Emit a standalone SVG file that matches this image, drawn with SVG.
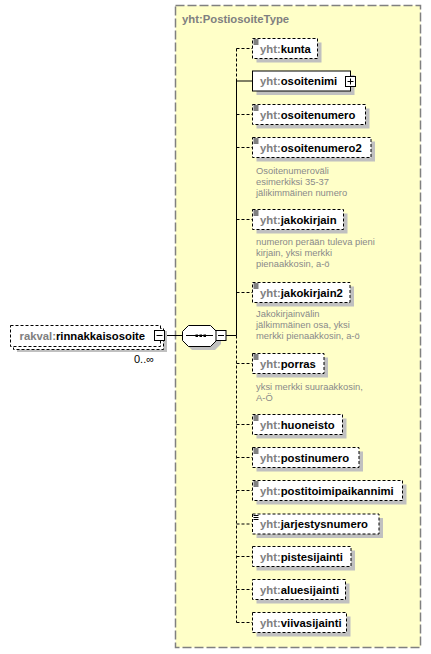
<svg xmlns="http://www.w3.org/2000/svg" width="431" height="654" viewBox="0 0 431 654">
<style>
text{font-family:"Liberation Sans",Arial,sans-serif}
.nm{font-size:11.3px;font-weight:bold;fill:#000}
.ns{fill:#808080}
.doc{font-size:9.4px;fill:#8a8a8a}
.box{fill:#fff;stroke:#000;stroke-width:1;stroke-dasharray:3,2}
.sbox{fill:#fff;stroke:#000;stroke-width:1}
.sh{fill:#c0c0c0}
.ic{stroke:#000;stroke-width:1}
.cd{stroke:#000;stroke-width:1;stroke-dasharray:3,2;fill:none}
.cs{stroke:#000;stroke-width:1;fill:none}
</style>
<defs>
<g id="icon"><path class="ic" d="M1,1.5h5M1,3.5h5M1,5.5h5"/></g>
</defs>
<g id="type">
<rect x="175.5" y="5.5" width="245" height="642" fill="#ffffc8" stroke="#808080" stroke-width="1.5" stroke-dasharray="9,3"/>
<text x="182" y="23" class="nm" style="fill:#808080">yht:PostiosoiteType</text>
</g>
<g id="connectors">
<path class="cs" d="M164.5,335.5H182.5M225.5,335.5H236.5"/>
<path class="cd" d="M236.5,48.5V81"/>
<path class="cs" d="M236.5,81V335.5"/>
<path class="cd" d="M236.5,335.5V622.5"/>
<path class="cd" d="M236.5,48.5H252.5M236.5,114.5H252.5M236.5,147.5H252.5M236.5,219.5H252.5M236.5,292.5H252.5M236.5,363.5H252.5M236.5,424.5H252.5M236.5,457.5H252.5M236.5,490.5H252.5M236.5,524H252.5M236.5,556.5H252.5M236.5,589.5H252.5M236.5,622.5H252.5"/>
<path class="cs" d="M236.5,81H252.5"/>
</g>
<g id="rinnakkaisosoite">
<rect class="sh" x="17" y="331" width="150" height="21"/>
<rect class="box" x="13.5" y="328.5" width="150" height="21"/>
<rect class="box" x="10.5" y="325.5" width="150" height="21"/>
<text x="19.5" y="340" class="nm"><tspan class="ns">rakval:</tspan>rinnakkaisosoite</text>
<rect class="sbox" x="154.5" y="330.5" width="10" height="10"/>
<path class="cs" d="M156.5,335.5h6"/>
<text x="134" y="363" style="font-size:11px;fill:#000">0..∞</text>
</g>
<g id="sequence">
<path class="sh" d="M192,329h23l6,6v9l-6,6h-23l-6,-6v-9z"/>
<path d="M188.5,325.5h22l6,6v9l-6,6h-22l-6,-6v-9z" fill="#fff" stroke="#000" stroke-width="1"/>
<path class="cs" d="M186,335.5h27"/>
<rect x="195.5" y="334.5" width="2.5" height="2.5" fill="#000"/>
<rect x="199.5" y="334.5" width="2.5" height="2.5" fill="#000"/>
<rect x="203.5" y="334.5" width="2.5" height="2.5" fill="#000"/>
<rect class="sbox" x="216" y="330.5" width="10" height="10"/>
<path class="cs" d="M218,335.5h6"/>
</g>
<g id="kunta">
<rect class="sh" x="256.5" y="42.5" width="65" height="20"/>
<rect class="box" x="252.5" y="38.5" width="65" height="20"/>
<use href="#icon" x="252.5" y="38.5"/>
<text x="260" y="52.5" class="nm"><tspan class="ns">yht:</tspan>kunta</text>
</g>
<g id="osoitenimi">
<rect class="sh" x="256.5" y="75" width="98" height="20"/>
<rect class="sbox" x="252.5" y="71" width="98" height="20"/>
<text x="260" y="85" class="nm"><tspan class="ns">yht:</tspan>osoitenimi</text>
<rect class="sbox" x="345.5" y="76.5" width="10" height="10"/>
<path class="cs" d="M347.5,81.5h6M350.5,78.5v6"/>
</g>
<g id="osoitenumero">
<rect class="sh" x="256.5" y="108.5" width="113" height="20"/>
<rect class="box" x="252.5" y="104.5" width="113" height="20"/>
<use href="#icon" x="252.5" y="104.5"/>
<text x="260" y="118.5" class="nm"><tspan class="ns">yht:</tspan>osoitenumero</text>
</g>
<g id="osoitenumero2">
<rect class="sh" x="256.5" y="141.5" width="118.5" height="20"/>
<rect class="box" x="252.5" y="137.5" width="118.5" height="20"/>
<use href="#icon" x="252.5" y="137.5"/>
<text x="260" y="151.5" class="nm"><tspan class="ns">yht:</tspan>osoitenumero2</text>
<text class="doc" x="256"><tspan x="256" y="173.5">Osoitenumeroväli</tspan><tspan x="256" y="184.5">esimerkiksi 35-37</tspan><tspan x="256" y="195.5">jälikimmäinen numero</tspan></text>
</g>
<g id="jakokirjain">
<rect class="sh" x="256.5" y="213.5" width="91" height="20"/>
<rect class="box" x="252.5" y="209.5" width="91" height="20"/>
<use href="#icon" x="252.5" y="209.5"/>
<text x="260" y="223.5" class="nm"><tspan class="ns">yht:</tspan>jakokirjain</text>
<text class="doc" x="256"><tspan x="256" y="244.5">numeron perään tuleva pieni</tspan><tspan x="256" y="255.5">kirjain, yksi merkki</tspan><tspan x="256" y="266.5">pienaakkosin, a-ö</tspan></text>
</g>
<g id="jakokirjain2">
<rect class="sh" x="256.5" y="286.5" width="97.5" height="20"/>
<rect class="box" x="252.5" y="282.5" width="97.5" height="20"/>
<use href="#icon" x="252.5" y="282.5"/>
<text x="260" y="296.5" class="nm"><tspan class="ns">yht:</tspan>jakokirjain2</text>
<text class="doc" x="256"><tspan x="256" y="316.5">Jakokirjainvälin</tspan><tspan x="256" y="327.5">jälkimmäinen osa, yksi</tspan><tspan x="256" y="338.5">merkki pienaakkosin, a-ö</tspan></text>
</g>
<g id="porras">
<rect class="sh" x="256.5" y="357.5" width="71.5" height="20"/>
<rect class="box" x="252.5" y="353.5" width="71.5" height="20"/>
<use href="#icon" x="252.5" y="353.5"/>
<text x="260" y="367.5" class="nm"><tspan class="ns">yht:</tspan>porras</text>
<text class="doc" x="256"><tspan x="256" y="389.5">yksi merkki suuraakkosin,</tspan><tspan x="256" y="400.5">A-Ö</tspan></text>
</g>
<g id="huoneisto">
<rect class="sh" x="256.5" y="418.5" width="90" height="20"/>
<rect class="box" x="252.5" y="414.5" width="90" height="20"/>
<use href="#icon" x="252.5" y="414.5"/>
<text x="260" y="428.5" class="nm"><tspan class="ns">yht:</tspan>huoneisto</text>
</g>
<g id="postinumero">
<rect class="sh" x="256.5" y="451.5" width="106.5" height="20"/>
<rect class="box" x="252.5" y="447.5" width="106.5" height="20"/>
<use href="#icon" x="252.5" y="447.5"/>
<text x="260" y="461.5" class="nm"><tspan class="ns">yht:</tspan>postinumero</text>
</g>
<g id="postitoimipaikannimi">
<rect class="sh" x="256.5" y="484.5" width="150" height="20"/>
<rect class="box" x="252.5" y="480.5" width="150" height="20"/>
<use href="#icon" x="252.5" y="480.5"/>
<text x="260" y="494.5" class="nm"><tspan class="ns">yht:</tspan>postitoimipaikannimi</text>
</g>
<g id="jarjestysnumero">
<rect class="sh" x="256.5" y="518" width="126.5" height="20"/>
<rect class="box" x="252.5" y="514" width="126.5" height="20"/>
<use href="#icon" x="252.5" y="514"/>
<text x="260" y="528" class="nm"><tspan class="ns">yht:</tspan>jarjestysnumero</text>
</g>
<g id="pistesijainti">
<rect class="sh" x="256.5" y="550.5" width="98.5" height="20"/>
<rect class="box" x="252.5" y="546.5" width="98.5" height="20"/>
<text x="260" y="560.5" class="nm"><tspan class="ns">yht:</tspan>pistesijainti</text>
</g>
<g id="aluesijainti">
<rect class="sh" x="256.5" y="583.5" width="93" height="20"/>
<rect class="box" x="252.5" y="579.5" width="93" height="20"/>
<text x="260" y="593.5" class="nm"><tspan class="ns">yht:</tspan>aluesijainti</text>
</g>
<g id="viivasijainti">
<rect class="sh" x="256.5" y="616.5" width="94" height="20"/>
<rect class="box" x="252.5" y="612.5" width="94" height="20"/>
<text x="260" y="626.5" class="nm"><tspan class="ns">yht:</tspan>viivasijainti</text>
</g>
</svg>
